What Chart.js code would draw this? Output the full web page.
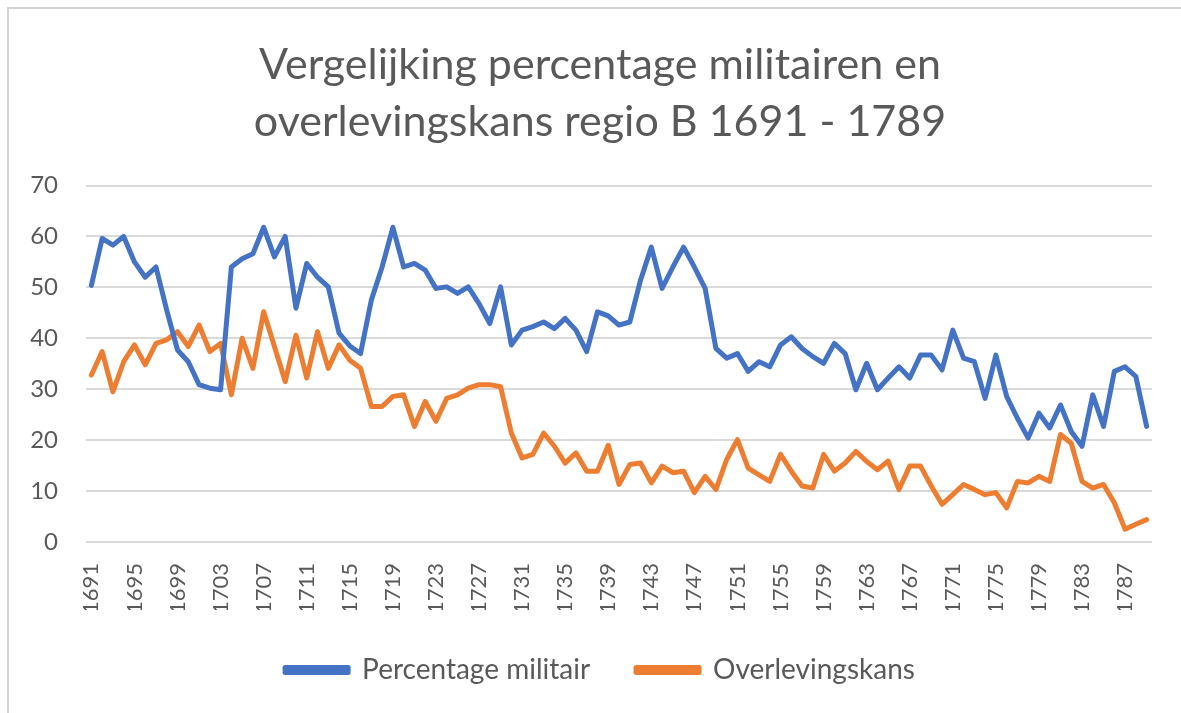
<!DOCTYPE html>
<html>
<head>
<meta charset="utf-8">
<script src="https://cdn.jsdelivr.net/npm/chart.js@4.4.1/dist/chart.umd.min.js"></script>
<style>
  html, body { margin: 0; padding: 0; background: #fff; }
  #wrap { position: relative; width: 1181px; height: 713px; overflow: hidden; }
  #frame { position: absolute; left: 7px; top: 7px; width: 1200px; height: 720px;
           border-left: 2px solid #d4d4d4; border-top: 2px solid #d4d4d4; }
  canvas { position: absolute; left: 0; top: 0; }
</style>
</head>
<body>
<div id="wrap">
  <div id="frame"></div>
  <!-- chart box is a bit wider than the window: the right part is cut off like in the screenshot -->
  <canvas id="chart" width="1200" height="713"></canvas>
</div>
<script>
// categories: every year 1691 - 1789
const firstYear = 1691;
const lastYear = 1789;
const years = [];
for (let y = firstYear; y <= lastYear; y++) years.push(String(y));

// only every 4th year gets a label on the axis
const labelStep = 4;

const percentageMilitair = [
  50.4, 59.6, 58.3, 60.0, 55.0, 52.0, 54.0, 45.5, 37.7, 35.4,
  30.9, 30.2, 29.9, 54.0, 55.6, 56.6, 61.8, 56.0, 60.0, 45.9,
  54.7, 52.0, 50.1, 41.0, 38.5, 37.0, 47.5, 54.0, 61.8, 54.0,
  54.7, 53.4, 49.8, 50.1, 48.8, 50.1, 46.8, 42.9, 50.1, 38.7,
  41.6, 42.3, 43.2, 41.9, 43.9, 41.6, 37.4, 45.2, 44.4, 42.6,
  43.2, 51.4, 57.9, 49.8, 54.0, 57.9, 54.0, 49.8, 38.0, 36.1,
  37.0, 33.5, 35.4, 34.4, 38.7, 40.3, 38.0, 36.4, 35.1, 39.0,
  37.0, 29.9, 35.1, 29.9, 32.2, 34.4, 32.2, 36.7, 36.7, 33.8,
  41.6, 36.1, 35.4, 28.2, 36.7, 28.6, 24.3, 20.4, 25.3, 22.4,
  26.9, 21.7, 18.8, 28.9, 22.7, 33.5, 34.4, 32.5, 22.7
];

const overlevingskans = [
  32.8, 37.4, 29.5, 35.4, 38.7, 34.8, 39.0, 39.7, 41.3, 38.4,
  42.6, 37.4, 39.0, 28.9, 40.0, 34.1, 45.2, 38.4, 31.5, 40.6,
  32.2, 41.3, 34.1, 38.7, 35.7, 34.1, 26.6, 26.6, 28.6, 28.9,
  22.7, 27.6, 23.7, 28.2, 28.9, 30.2, 30.9, 30.9, 30.5, 21.4,
  16.5, 17.2, 21.4, 18.8, 15.5, 17.5, 13.9, 13.9, 19.0, 11.3,
  15.2, 15.5, 11.6, 14.9, 13.6, 13.9, 9.7, 12.9, 10.3, 16.2,
  20.1, 14.5, 13.2, 11.9, 17.2, 13.9, 11.0, 10.6, 17.2, 13.9,
  15.5, 17.8, 15.8, 14.2, 15.9, 10.3, 14.9, 14.9, 11.0, 7.4,
  9.3, 11.3, 10.3, 9.3, 9.7, 6.7, 11.9, 11.6, 12.9, 11.9,
  21.1, 19.4, 11.9, 10.6, 11.3, 7.7, 2.5, 3.5, 4.4
];

const yMin = 0;
const yMax = 70;
const yStep = 10;

const BLUE = '#4472c4';
const ORANGE = '#ed7d31';
const TEXT = '#595959';
const GRID = '#d9d9d9';
const FONT = "Lato, 'Open Sans', sans-serif";

const ctx = document.getElementById('chart').getContext('2d');

new Chart(ctx, {
  type: 'line',
  data: {
    labels: years,
    datasets: [
      {
        label: 'Percentage militair',
        data: percentageMilitair,
        borderColor: BLUE,
        backgroundColor: BLUE,
        borderWidth: 5,
        pointRadius: 0,
        tension: 0,
        borderJoinStyle: 'round',
        borderCapStyle: 'round'
      },
      {
        label: 'Overlevingskans',
        data: overlevingskans,
        borderColor: ORANGE,
        backgroundColor: ORANGE,
        borderWidth: 5,
        pointRadius: 0,
        tension: 0,
        borderJoinStyle: 'round',
        borderCapStyle: 'round'
      }
    ]
  },
  options: {
    responsive: false,
    animation: false,
    layout: { padding: { left: 0, right: 0, top: 0, bottom: 19 } },
    plugins: {
      tooltip: { enabled: false },
      title: {
        display: true,
        text: ['Vergelijking percentage militairen en', 'overlevingskans regio B 1691 - 1789'],
        color: TEXT,
        font: { family: FONT, size: 43, weight: 'normal', lineHeight: 1.32 },
        padding: { top: 37, bottom: 35 }
      },
      legend: {
        position: 'bottom',
        labels: {
          color: TEXT,
          font: { family: FONT, size: 28 },
          boxWidth: 63,
          boxHeight: 5,
          padding: 46
        }
      }
    },
    scales: {
      x: {
        offset: true,
        grid: { display: false },
        border: { display: false },
        ticks: {
          color: TEXT,
          font: { family: FONT, size: 22 },
          autoSkip: false,
          maxRotation: 90,
          minRotation: 90,
          padding: 13,
          callback: function (val, i) {
            return i % labelStep === 0 ? years[i] : '';
          }
        },
        afterFit: function (scale) { scale.height = 68; }
      },
      y: {
        min: yMin,
        max: yMax,
        grid: { color: GRID, lineWidth: 2, drawTicks: false },
        border: { display: false },
        ticks: {
          stepSize: yStep,
          color: TEXT,
          font: { family: FONT, size: 24 },
          padding: 28
        },
        afterFit: function (scale) { scale.width = 86; }
      },
      // empty margin on the right of the plot, keeps title and legend centred
      rightMargin: {
        type: 'linear',
        position: 'right',
        grid: { display: false },
        border: { display: false },
        ticks: { display: false },
        afterFit: function (scale) { scale.width = 48; }
      }
    }
  }
});
</script>
</body>
</html>
